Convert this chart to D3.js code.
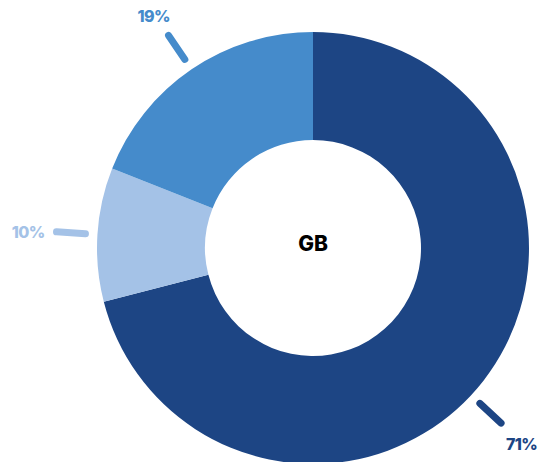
<!DOCTYPE html>
<html>
<head>
<meta charset="utf-8">
<script src="https://cdn.jsdelivr.net/npm/d3@7"></script>
<style>
  body { margin: 0; background: #fff; }
  svg text { font-family: Inter, "Noto Sans", sans-serif; font-weight: 800; }
</style>
</head>
<body>
<svg width="538" height="462"></svg>
<script>
'use strict';

const categories = ['A', 'B', 'C'];
const values = [71, 10, 19];
const labels = ['71%', '10%', '19%'];
const colors = ['#1d4584', '#a4c2e7', '#458bcb'];
const centerLabel = 'GB';

(function (d3) {
  const svg = d3.select('svg');
  const width = +svg.attr('width');
  const cx = 313, cy = 248;
  const outerR = 216, innerR = 108;
  const halfW = 15, halfH = 6;

  const pie = d3.pie().sort(null).value(d => d.value);
  const arcs = pie(categories.map((c, i) => ({ cat: c, value: values[i], label: labels[i], color: colors[i] })));

  const arc = d3.arc().innerRadius(innerR).outerRadius(outerR);

  const g = svg.append('g').attr('transform', `translate(${cx},${cy})`);

  g.selectAll('path.slice').data(arcs)
    .enter().append('path')
      .attr('class', 'slice')
      .attr('d', arc)
      .attr('fill', d => d.data.color);

  const pt = (a, r) => [Math.sin(a) * r, -Math.cos(a) * r];
  const labelR = a => 270 + Math.abs(Math.sin(a)) * halfW + Math.abs(Math.cos(a)) * halfH;

  // label angle: middle of slice, turned away from the edge when it would not fit
  arcs.forEach(d => {
    let a = (d.startAngle + d.endAngle) / 2;
    let guard = 0;
    while (cx + pt(a, labelR(a))[0] + halfW > width - 1 && guard++ < 200) {
      a += a < Math.PI ? 0.01 : -0.01;
    }
    d.labelAngle = a;
  });

  g.selectAll('line.leader').data(arcs)
    .enter().append('line')
      .attr('class', 'leader')
      .attr('x1', d => pt(d.labelAngle, 228)[0])
      .attr('y1', d => pt(d.labelAngle, 228)[1])
      .attr('x2', d => pt(d.labelAngle, 257)[0])
      .attr('y2', d => pt(d.labelAngle, 257)[1])
      .attr('stroke', d => d.data.color)
      .attr('stroke-width', 7)
      .attr('stroke-linecap', 'round');

  g.selectAll('text.pct').data(arcs)
    .enter().append('text')
      .attr('class', 'pct')
      .attr('x', d => pt(d.labelAngle, labelR(d.labelAngle))[0])
      .attr('y', d => pt(d.labelAngle, labelR(d.labelAngle))[1])
      .attr('text-anchor', 'middle')
      .attr('dy', '0.5em')
      .attr('font-size', 16)
      .attr('letter-spacing', '-0.6')
      .attr('fill', d => d.data.color)
      .text(d => d.data.label);

  g.append('text')
      .attr('text-anchor', 'middle')
      .attr('dy', '0.35em')
      .attr('y', -4)
      .attr('font-size', 21)
      .attr('fill', '#000')
      .text(centerLabel);
}(d3));
</script>
</body>
</html>
